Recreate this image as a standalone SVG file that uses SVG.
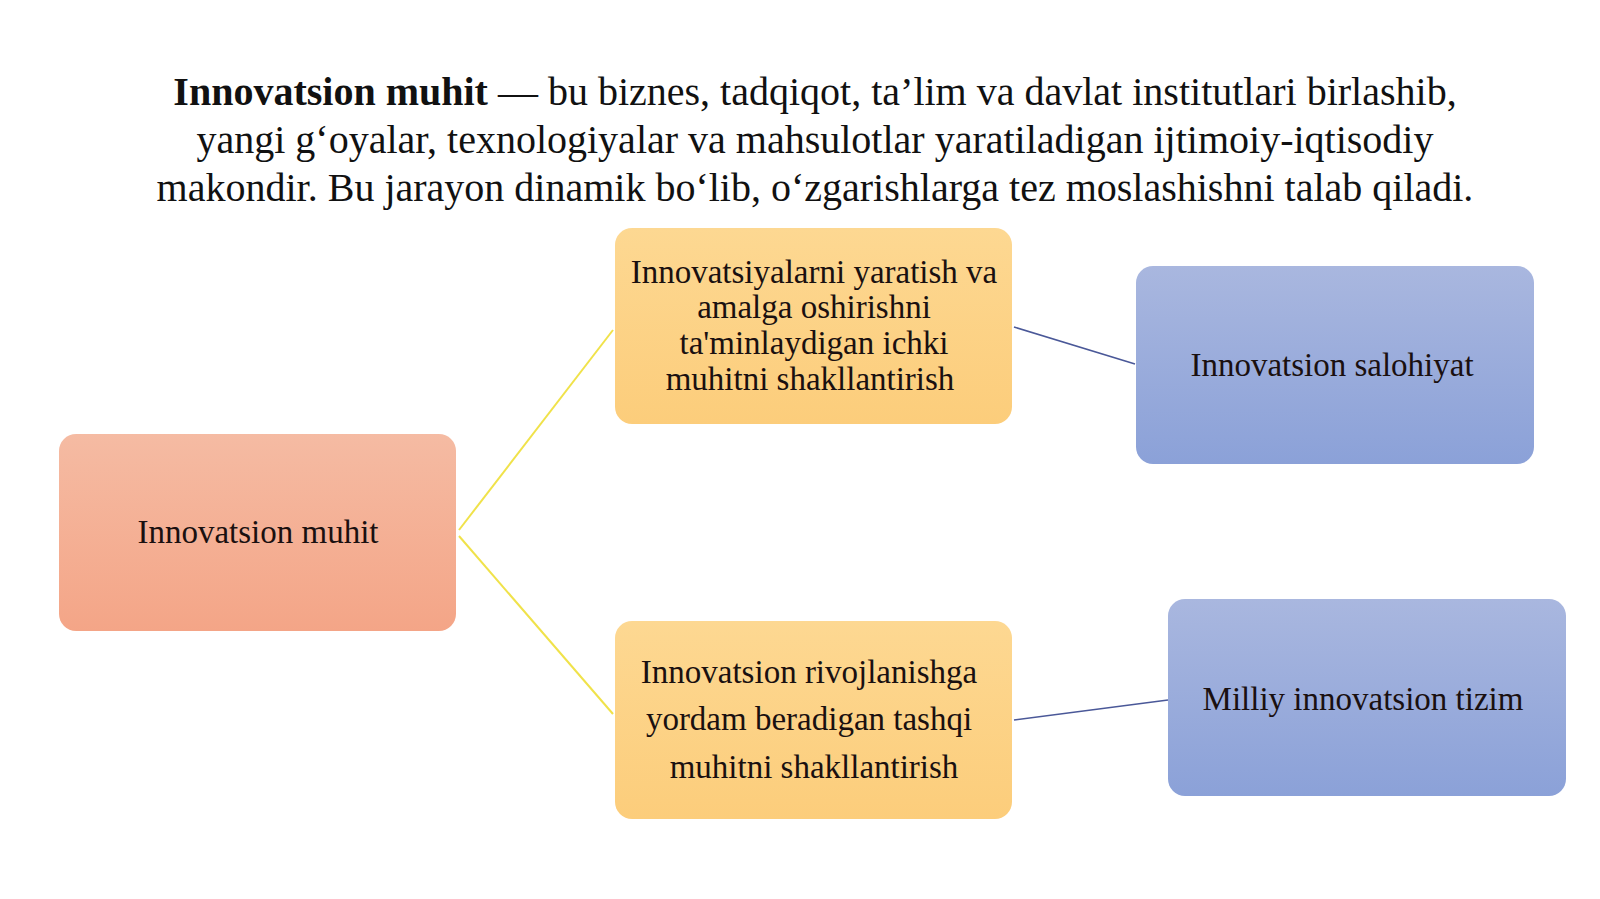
<svg xmlns="http://www.w3.org/2000/svg" width="1600" height="899" viewBox="0 0 1600 899">
<defs>
<linearGradient id="gRed" x1="0" y1="0" x2="0" y2="1"><stop offset="0" stop-color="#f5bba3"/><stop offset="1" stop-color="#f4a587"/></linearGradient>
<linearGradient id="gOr" x1="0" y1="0" x2="0" y2="1"><stop offset="0" stop-color="#fdd892"/><stop offset="1" stop-color="#fccd7b"/></linearGradient>
<linearGradient id="gBl" x1="0" y1="0" x2="0" y2="1"><stop offset="0" stop-color="#a9b7df"/><stop offset="1" stop-color="#8ba1d8"/></linearGradient>
</defs>
<style>
.t{font-family:"Liberation Serif","Times New Roman",serif;fill:#111;text-anchor:middle}
.title{font-size:40px}
.lbl{font-size:33px;fill:#1a1010}
.y{stroke:#f0e24a;stroke-width:2;fill:none}
.b{stroke:#4a5898;stroke-width:1.6;fill:none}
</style>
<rect width="1600" height="899" fill="#ffffff"/>
<g id="title" class="t title">
<text x="815" y="105"><tspan font-weight="bold">Innovatsion muhit</tspan> — bu biznes, tadqiqot, ta’lim va davlat institutlari birlashib,</text>
<text x="815" y="153">yangi g‘oyalar, texnologiyalar va mahsulotlar yaratiladigan ijtimoiy-iqtisodiy</text>
<text x="815" y="201">makondir. Bu jarayon dinamik bo‘lib, o‘zgarishlarga tez moslashishni talab qiladi.</text>
</g>
<g id="connectors">
<line class="y" x1="459" y1="530" x2="613" y2="330"/>
<line class="y" x1="459" y1="536" x2="613" y2="714"/>
<line class="b" x1="1014" y1="327" x2="1135" y2="364"/>
<line class="b" x1="1014" y1="720" x2="1168" y2="700"/>
</g>
<g id="n-muhit">
<rect x="59" y="434" width="397" height="197" rx="17" fill="url(#gRed)"/>
<text class="t lbl" x="258" y="543">Innovatsion muhit</text>
</g>
<g id="n-ichki">
<rect x="615" y="228" width="397" height="196" rx="17" fill="url(#gOr)"/>
<text class="t lbl" x="814" y="283">Innovatsiyalarni yaratish va</text>
<text class="t lbl" x="814" y="318">amalga oshirishni</text>
<text class="t lbl" x="814" y="354">ta'minlaydigan ichki</text>
<text class="t lbl" x="810" y="390">muhitni shakllantirish</text>
</g>
<g id="n-tashqi">
<rect x="615" y="621" width="397" height="198" rx="17" fill="url(#gOr)"/>
<text class="t lbl" x="809" y="683">Innovatsion rivojlanishga</text>
<text class="t lbl" x="809" y="730">yordam beradigan tashqi</text>
<text class="t lbl" x="814" y="778">muhitni shakllantirish</text>
</g>
<g id="n-salohiyat">
<rect x="1136" y="266" width="398" height="198" rx="17" fill="url(#gBl)"/>
<text class="t lbl" x="1332" y="376">Innovatsion salohiyat</text>
</g>
<g id="n-tizim">
<rect x="1168" y="599" width="398" height="197" rx="17" fill="url(#gBl)"/>
<text class="t lbl" x="1363" y="710">Milliy innovatsion tizim</text>
</g>
</svg>
